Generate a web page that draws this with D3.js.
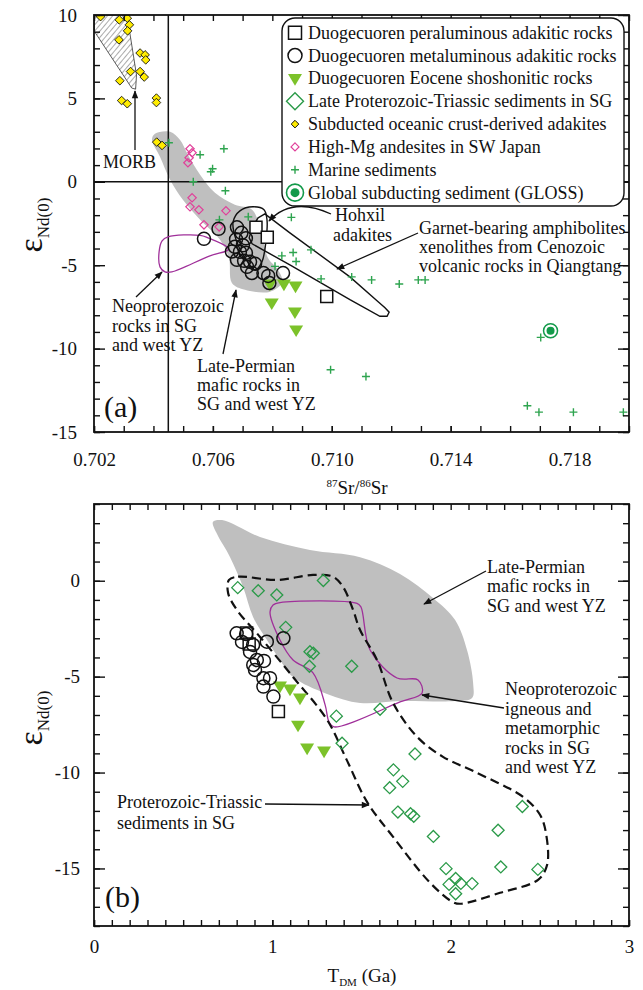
<!DOCTYPE html>
<html><head><meta charset="utf-8">
<script src="https://cdn.jsdelivr.net/npm/d3@7"></script>
<style>body{margin:0;background:#fff} svg text{font-family:'Liberation Serif','Times New Roman',serif;fill:#111}</style>
</head><body><svg id="c" width="643" height="990"></svg>
<script>
// ---------------- Panel (a) data: [87Sr/86Sr, eNd(0)] ----------------
const srTickLabels = [0.702, 0.706, 0.710, 0.714, 0.718];
const epsTickLabelsA = [10, 5, 0, -5, -10, -15];
const peraluminousA = [[0.70745,-2.72],[0.70783,-3.32],[0.70983,-6.88]];
const metaluminousA = [[0.70570,-3.42],[0.70619,-2.82],[0.70681,-2.73],[0.70696,-3.06],[0.70678,-3.45],[0.70711,-3.39],[0.70674,-3.90],[0.70701,-3.81],[0.70664,-4.18],[0.70691,-4.20],[0.70711,-4.26],[0.70681,-4.68],[0.70705,-4.74],[0.70725,-4.80],[0.70742,-4.92],[0.70731,-5.47],[0.70770,-5.47],[0.70786,-5.64],[0.70836,-5.47],[0.70790,-6.07],[0.70715,-5.10]];
const shoshoniticA = [[0.70792,-6.12],[0.70839,-6.12],[0.70878,-6.24],[0.70798,-7.25],[0.70876,-7.79],[0.70880,-8.87]];
const oceanicAdakitesA = [[0.70285,9.71],[0.70312,9.81],[0.70319,9.41],[0.70313,9.05],[0.70284,8.51],[0.70355,7.72],[0.70372,7.61],[0.70374,7.31],[0.70323,6.61],[0.70355,6.61],[0.70369,6.28],[0.70287,6.06],[0.70293,4.87],[0.70312,4.68],[0.70410,5.02],[0.70410,4.75],[0.70411,2.38],[0.70429,2.18],[0.70222,9.9]];
const highMgAndesitesA = [[0.70523,1.98],[0.70530,1.74],[0.70520,1.44],[0.70516,1.14],[0.70530,-0.96],[0.70523,-1.50],[0.70553,-1.68],[0.70644,-1.74],[0.70570,-2.58],[0.70621,-2.70]];
const marineSedimentsA = [[0.70452,2.34],[0.70557,1.62],[0.70637,1.98],[0.70599,0.78],[0.70593,0.60],[0.70534,0.00],[0.70642,-0.54],[0.70622,-2.28],[0.70719,-2.10],[0.70864,-2.13],[0.70832,-4.44],[0.70870,-4.24],[0.70880,-4.78],[0.70930,-4.08],[0.70809,-5.07],[0.70964,-5.82],[0.71067,-5.70],[0.71134,-5.88],[0.71227,-6.13],[0.71291,-5.88],[0.71314,-5.88],[0.71703,-9.33],[0.70996,-11.27],[0.71115,-11.67],[0.71658,-13.43],[0.71697,-13.81],[0.71813,-13.81],[0.71981,-13.81]];
const glossA = [[0.71736,-8.93]];
const bulkEarthSr = 0.7045;
const morbFieldA = [[0.70200,10],[0.70202,9.0],[0.70327,5.62],[0.70340,5.55],[0.70343,6.4],[0.70311,10]];
const permianFieldA = [[0.70405,2.88],[0.70456,3.00],[0.70489,2.52],[0.70516,1.62],[0.70557,0.42],[0.70607,-0.66],[0.70674,-1.38],[0.70732,-1.68],[0.70765,-3.18],[0.70785,-4.56],[0.70819,-5.28],[0.70833,-6.00],[0.70792,-6.59],[0.70708,-6.47],[0.70664,-6.06],[0.70654,-4.56],[0.70624,-3.48],[0.70557,-2.28],[0.70499,-1.08],[0.70456,0.12],[0.70422,1.50],[0.70395,2.52]];
const neoproterozoicFieldA = [[0.70429,-3.54],[0.70449,-3.30],[0.70557,-3.21],[0.70584,-3.36],[0.70647,-3.90],[0.70651,-4.08],[0.70590,-4.44],[0.70462,-5.40],[0.70439,-5.40],[0.70422,-5.10],[0.70419,-4.20]];
const hohxilFieldA = [[0.70668,-2.40],[0.70691,-1.74],[0.70735,-1.50],[0.70772,-1.68],[0.70782,-2.28],[0.70779,-3.48],[0.70765,-4.80],[0.70742,-5.28],[0.70708,-4.56],[0.70678,-3.48]];
const garnetFieldA = [[0.70752,-2.16],[0.70775,-1.92],[0.70859,-3.06],[0.71061,-5.70],[0.71156,-7.19],[0.71179,-7.55],[0.71193,-7.82],[0.71186,-8.06],[0.71162,-8.06],[0.71061,-7.07],[0.70859,-4.98],[0.70732,-3.72],[0.70722,-3.36],[0.70732,-2.76]];

// ---------------- Panel (b) data: [T_DM (Ga), eNd(0)] ----------------
const tdmTickLabels = [0, 1, 2, 3];
const epsTickLabelsB = [0, -5, -10, -15];
const peraluminousB = [[0.856,-2.72],[0.870,-3.30],[1.034,-6.82]];
const metaluminousB = [[0.800,-2.74],[0.853,-2.78],[0.830,-3.19],[0.892,-3.35],[0.875,-3.71],[0.969,-3.18],[1.062,-3.00],[0.913,-4.13],[0.893,-4.39],[0.903,-4.65],[0.953,-4.18],[0.950,-5.08],[0.987,-5.08],[0.950,-5.52],[1.006,-6.04]];
const shoshoniticB = [[1.043,-5.48],[1.099,-5.64],[1.155,-6.11],[1.144,-7.52],[1.195,-8.71],[1.290,-8.87]];
const sedimentsB = [[0.806,-0.36],[0.921,-0.52],[1.025,-0.74],[1.286,0.01],[1.075,-2.43],[1.211,-3.70],[1.230,-3.78],[1.208,-4.46],[1.445,-4.46],[1.604,-6.70],[1.359,-7.06],[1.391,-8.47],[1.800,-9.03],[1.679,-9.86],[1.731,-10.46],[1.658,-10.79],[1.704,-12.06],[1.793,-12.28],[1.775,-12.15],[1.903,-13.33],[2.266,-13.01],[2.402,-11.77],[2.281,-14.92],[2.489,-15.05],[1.974,-15.01],[2.028,-15.52],[1.991,-15.83],[2.057,-15.78],[2.120,-15.79],[2.028,-16.32]];
const permianFieldB = [[0.667,3.06],[0.718,3.16],[0.931,2.28],[1.211,1.60],[1.492,1.23],[1.716,0.35],[1.901,-0.90],[2.025,-2.05],[2.092,-3.62],[2.126,-5.34],[2.120,-6.12],[2.025,-6.27],[1.716,-6.27],[1.492,-6.37],[1.307,-5.90],[1.116,-5.02],[1.043,-4.13],[0.970,-3.09],[0.892,-1.89],[0.836,-0.33],[0.763,1.23],[0.690,2.43]];
const sedimentFieldB = [[0.757,0.04],[0.808,0.21],[1.026,0.04],[1.228,0.30],[1.340,0.21],[1.397,-0.33],[1.453,-1.53],[1.492,-2.57],[1.587,-4.13],[1.677,-6.37],[1.812,-8.14],[1.957,-9.18],[2.137,-9.97],[2.406,-11.27],[2.501,-12.20],[2.535,-13.19],[2.541,-14.81],[2.490,-15.59],[2.277,-16.27],[2.053,-16.84],[2.008,-16.73],[1.884,-15.74],[1.677,-13.35],[1.531,-11.53],[1.417,-9.34],[1.307,-7.25],[1.116,-5.02],[0.931,-2.93],[0.802,-1.53],[0.752,-0.64]];
const neoproterozoicFieldB = [[1.004,-1.27],[1.043,-1.14],[1.475,-1.18],[1.497,-1.37],[1.548,-3.61],[1.699,-5.07],[1.817,-5.17],[1.840,-5.85],[1.716,-6.32],[1.346,-7.62],[1.318,-7.36],[1.296,-6.47],[1.228,-4.80],[1.116,-4.13],[1.043,-3.09],[0.987,-1.63]];

const legendLabels = ["Duogecuoren peraluminous adakitic rocks","Duogecuoren metaluminous adakitic rocks","Duogecuoren Eocene shoshonitic rocks","Late Proterozoic-Triassic sediments in SG","Subducted oceanic crust-derived adakites","High-Mg andesites in SW Japan","Marine sediments","Global subducting sediment (GLOSS)"];

// ---------------- styles ----------------
const C = {yellow:"#ffec00", magenta:"#e0409a", plus:"#2ea44f", dia:"#2a9a48", tri:"#7cc22a", gloss:"#139a4a", purple:"#a0309a", gray:"#bfbfbf"};
const FS = 18;

const svg = d3.select('#c');
const defs = svg.append('defs');
defs.append('marker').attr('id','arr').attr('viewBox','0 0 10 10').attr('refX',9).attr('refY',5)
  .attr('markerWidth',10).attr('markerHeight',8).attr('markerUnits','userSpaceOnUse').attr('orient','auto')
  .append('path').attr('d','M0,1 L10,5 L0,9 Z').attr('fill','#111');
const pat = defs.append('pattern').attr('id','hatch').attr('patternUnits','userSpaceOnUse')
  .attr('width',4).attr('height',4).attr('patternTransform','rotate(40)');
pat.append('line').attr('x1',0).attr('y1',0).attr('x2',0).attr('y2',4).attr('stroke','#444').attr('stroke-width',0.9);

// symbol paths
const sq = s => `M${-s},${-s}H${s}V${s}H${-s}Z`;
const dia = r => `M0,${-r}L${r},0L0,${r}L${-r},0Z`;
const tri = r => `M${-r},${-r*0.62}L${r},${-r*0.62}L0,${r*1.05}Z`;
const plus = r => `M${-r},0H${r}M0,${-r}V${r}`;
const circ = r => `M${r},0A${r},${r} 0 1,1 ${-r},0A${r},${r} 0 1,1 ${r},0Z`;

function frame(g, x, y, xMinor, xMajor, yMinor, yMajor, xFmt, yPad, xPad){
  const [x0,x1] = x.range(), [y0,y1] = y.range();
  const ax = (gen, t, vals, size, fmt, pad) => {
    const a = g.append('g').attr('transform', t).call(gen.tickValues(vals).tickSize(size).tickPadding(pad||3).tickFormat(fmt||''));
    a.select('.domain').remove();
    a.selectAll('line').attr('stroke','#111').attr('stroke-width',1.4);
    a.selectAll('text').attr('font-size',19).attr('font-family',"'Liberation Serif',serif").attr('fill','#111');
    return a;
  };
  ax(d3.axisBottom(x), `translate(0,${y0})`, xMinor, -6);
  ax(d3.axisBottom(x), `translate(0,${y0})`, xMajor, -6, xFmt, xPad);
  ax(d3.axisTop(x), `translate(0,${y1})`, xMinor, -6);
  ax(d3.axisLeft(y), `translate(${x0},0)`, yMinor, -6);
  ax(d3.axisLeft(y), `translate(${x0},0)`, yMajor, -11, d=>d<0?'-'+Math.abs(d):String(d), yPad);
  ax(d3.axisRight(y), `translate(${x1},0)`, yMinor, -6);
  ax(d3.axisRight(y), `translate(${x1},0)`, yMajor, -11);
  g.append('rect').attr('x',x0).attr('y',y1).attr('width',x1-x0).attr('height',y0-y1)
    .attr('fill','none').attr('stroke','#111').attr('stroke-width',1.8);
}

function pts(g, data, x, y, d, fill, stroke, sw){
  g.append('g').selectAll('path').data(data).join('path')
    .attr('transform', p=>`translate(${x(p[0])},${y(p[1])})`).attr('d', d)
    .attr('fill', fill).attr('stroke', stroke).attr('stroke-width', sw);
}
function txt(g, x, y, lines, size, lh){
  const t = g.append('text').attr('font-size', size);
  lines.forEach((s,i)=>t.append('tspan').attr('x',x).attr('y',y+i*lh).text(s));
}
function arrow(g, d){ g.append('path').attr('d',d).attr('fill','none').attr('stroke','#111').attr('stroke-width',1.3).attr('marker-end','url(#arr)'); }
function epsLabel(g, cx, cy){
  const t = g.append('text').attr('transform',`translate(${cx},${cy}) rotate(-90)`).attr('text-anchor','middle');
  t.append('tspan').attr('font-size',34).text('ε');
  t.append('tspan').attr('font-size',17).attr('dy',7).text('Nd(0)');
}

// ================= Panel (a) =================
const xA = d3.scaleLinear([0.702, 0.720], [94, 629]);
const yA = d3.scaleLinear([-15, 10], [432, 15]);
const gA = svg.append('g');
defs.append('clipPath').attr('id','clipA').append('rect').attr('x',94).attr('y',15).attr('width',535).attr('height',417);
const fA = gA.append('g').attr('clip-path','url(#clipA)');
const lineA = d3.line().x(d=>xA(d[0])).y(d=>yA(d[1]));
fA.append('path').attr('d', lineA.curve(d3.curveLinearClosed)(morbFieldA)).attr('fill','url(#hatch)').attr('stroke','#333').attr('stroke-width',0.8);
fA.append('path').attr('d', lineA.curve(d3.curveCatmullRomClosed)(permianFieldA)).attr('fill',C.gray);
fA.append('line').attr('x1',xA(bulkEarthSr)).attr('x2',xA(bulkEarthSr)).attr('y1',yA(10)).attr('y2',yA(-15)).attr('stroke','#111').attr('stroke-width',1.5);
fA.append('line').attr('x1',xA(0.702)).attr('x2',xA(0.720)).attr('y1',yA(0)).attr('y2',yA(0)).attr('stroke','#111').attr('stroke-width',1.5);
fA.append('path').attr('d', lineA.curve(d3.curveCatmullRomClosed)(neoproterozoicFieldA)).attr('fill','none').attr('stroke',C.purple).attr('stroke-width',1.3);
fA.append('path').attr('d', lineA.curve(d3.curveLinearClosed)(garnetFieldA)).attr('fill','none').attr('stroke','#111').attr('stroke-width',1.4);
fA.append('path').attr('d', lineA.curve(d3.curveCatmullRomClosed)(hohxilFieldA)).attr('fill','none').attr('stroke','#111').attr('stroke-width',1.4);
pts(fA, marineSedimentsA, xA, yA, plus(4), 'none', C.plus, 1.4);
pts(fA, highMgAndesitesA, xA, yA, dia(4.2), 'none', C.magenta, 1.2);
pts(fA, oceanicAdakitesA, xA, yA, dia(4.3), C.yellow, '#111', 0.9);
pts(fA, shoshoniticA, xA, yA, tri(7), C.tri, 'none', 0);
pts(fA, metaluminousA, xA, yA, circ(6.5), 'none', '#111', 1.5);
pts(fA, peraluminousA, xA, yA, sq(6), '#fff', '#111', 1.5);
pts(fA, glossA, xA, yA, circ(7), '#fff', C.gloss, 1.5);
pts(fA, glossA, xA, yA, circ(4), C.gloss, 'none', 0);

frame(gA, xA, yA, d3.range(0,19).map(i=>0.702+i*0.001), srTickLabels, d3.range(0,26).map(i=>10-i), epsTickLabelsA, d3.format('.3f'), 17, 21);

// legend
const lg = gA.append('g');
lg.append('rect').attr('x',282).attr('y',18).attr('width',342).attr('height',188).attr('rx',13).attr('fill','#fff').attr('stroke','#111').attr('stroke-width',1.4);
const legSym = [
  [sq(6.5),'none','#111',1.5],[circ(7),'none','#111',1.5],[tri(7),C.tri,'none',0],[dia(8.5),'none',C.dia,1.4],
  [dia(3.8),C.yellow,'#111',1],[dia(4),'none',C.magenta,1.2],[plus(4),'none',C.plus,1.4],[circ(8.5),'#fff',C.gloss,1.6]];
legendLabels.forEach((s,i)=>{
  const yy = 32.7 + i*22.85;
  const sy = legSym[i];
  lg.append('path').attr('transform',`translate(295,${yy})`).attr('d',sy[0]).attr('fill',sy[1]).attr('stroke',sy[2]).attr('stroke-width',sy[3]);
  if(i===7) lg.append('path').attr('transform',`translate(295,${yy})`).attr('d',circ(4.5)).attr('fill',C.gloss);
  lg.append('text').attr('x',308).attr('y',yy+6).attr('font-size',FS).text(s);
});

// annotations (a)
txt(gA, 103, 168, ['MORB'], FS, 0);
arrow(gA, 'M135,150 L135,91');
txt(gA, 335, 221, ['Hohxil'], FS, 0);
txt(gA, 333, 241, ['adakites'], FS, 0);
arrow(gA, 'M331,214 Q292,196 269,221');
txt(gA, 419, 234, ['Garnet-bearing amphibolites','xenolithes  from Cenozoic','volcanic rocks in Qiangtang'], FS, 19);
arrow(gA, 'M418,233 L337,269');
txt(gA, 112, 312, ['Neoproterozoic','rocks in SG','and west YZ'], FS, 19.5);
arrow(gA, 'M136,297 L162,272');
txt(gA, 197, 372, ['Late-Permian','mafic rocks in','SG and west YZ'], FS, 19.2);
arrow(gA, 'M223,354 L236,290');
gA.append('text').attr('x',104).attr('y',417).attr('font-size',30).text('(a)');
// axis titles (a)
const t1 = gA.append('text').attr('x',357).attr('y',494).attr('text-anchor','middle').attr('font-size',19);
t1.append('tspan').attr('font-size',11).attr('dy',-7).text('87');
t1.append('tspan').attr('dy',7).text('Sr/');
t1.append('tspan').attr('font-size',11).attr('dy',-7).text('86');
t1.append('tspan').attr('dy',7).text('Sr');
epsLabel(gA, 42, 225);

// ================= Panel (b) =================
const xB = d3.scaleLinear([0, 3], [94, 629]);
const yB = d3.scaleLinear([-18, 4], [926, 504]);
const gB = svg.append('g');
defs.append('clipPath').attr('id','clipB').append('rect').attr('x',94).attr('y',504).attr('width',535).attr('height',422);
const fB = gB.append('g').attr('clip-path','url(#clipB)');
const lineB = d3.line().x(d=>xB(d[0])).y(d=>yB(d[1]));
fB.append('path').attr('d', lineB.curve(d3.curveCatmullRomClosed)(permianFieldB)).attr('fill',C.gray);
fB.append('path').attr('d', lineB.curve(d3.curveCatmullRomClosed)(neoproterozoicFieldB)).attr('fill','none').attr('stroke',C.purple).attr('stroke-width',1.3);
fB.append('path').attr('d', lineB.curve(d3.curveCatmullRomClosed)(sedimentFieldB)).attr('fill','none').attr('stroke','#111').attr('stroke-width',2.2).attr('stroke-dasharray','9,5');
pts(fB, sedimentsB, xB, yB, dia(6), 'none', C.dia, 1.3);
pts(fB, shoshoniticB, xB, yB, tri(7), C.tri, 'none', 0);
pts(fB, metaluminousB, xB, yB, circ(6.5), 'none', '#111', 1.5);
pts(fB, peraluminousB, xB, yB, sq(6), 'none', '#111', 1.5);

frame(gB, xB, yB, d3.range(0,31).map(i=>i/10), tdmTickLabels, d3.range(0,23).map(i=>4-i), epsTickLabelsB, d3.format('d'), 14, 14);

txt(gB, 487, 573, ['Late-Permian','mafic rocks in','SG and west YZ'], FS, 19.3);
arrow(gB, 'M486,571 L424,604');
txt(gB, 505, 695, ['Neoproterozoic','igneous and','metamorphic','rocks in SG','and west YZ'], FS, 19.5);
arrow(gB, 'M504,708 L422,695');
txt(gB, 117, 808, ['Proterozoic-Triassic','sediments in SG'], FS, 21);
arrow(gB, 'M265,804 L369,805');
gB.append('text').attr('x',105).attr('y',907).attr('font-size',30).text('(b)');
const t2 = gB.append('text').attr('x',362).attr('y',982).attr('text-anchor','middle').attr('font-size',19);
t2.append('tspan').text('T');
t2.append('tspan').attr('font-size',11).attr('dy',4).text('DM');
t2.append('tspan').attr('dy',-4).text(' (Ga)');
epsLabel(gB, 42, 718);
</script></body></html>
